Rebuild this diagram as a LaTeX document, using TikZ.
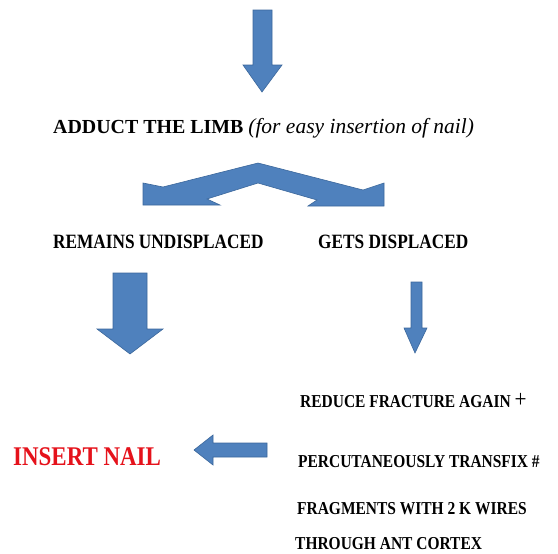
\documentclass[tikz,border=0pt]{standalone}
\usepackage{fontspec}
\setmainfont{Liberation Serif}
\newfontfamily\narrowserif{Liberation Serif}[FakeStretch=0.85]
\usetikzlibrary{positioning}

\definecolor{arrowblue}{HTML}{4F81BD}
\definecolor{arrowedge}{HTML}{3B679B}
\definecolor{nailred}{HTML}{E5121B}

\begin{document}
\begin{tikzpicture}[
        x=1pt, y=-1pt, % pixel grid, y grows downwards
        blockarrow/.style = {fill=arrowblue, draw=arrowedge, line width=0.6pt, line join=miter},
        steptext/.style = {anchor=base west, inner sep=0pt, font=\bfseries},
        bigtext/.style = {steptext, font=\bfseries\fontsize{19.9}{22}\selectfont},
        midtext/.style = {steptext, font=\narrowserif\bfseries\fontsize{20.3}{22}\selectfont},
        smalltext/.style = {steptext, font=\narrowserif\bfseries\fontsize{18.2}{20}\selectfont},
    ]
    \useasboundingbox (0,0) rectangle (558,554);

    % arrows
    \draw[blockarrow] (253,10) -- (272,10) -- (272,65) -- (282,65) -- (262,92)
        -- (243,65) -- (253,65) -- cycle;
    \draw[blockarrow] (258,163) -- (363,190) -- (384,183) -- (384,206) -- (308,206)
        -- (317,200) -- (258,183) -- (207,199) -- (220,205) -- (143,205)
        -- (143,183) -- (163,187) -- cycle;
    \draw[blockarrow] (113,273) -- (147,273) -- (147,329) -- (163,329) -- (130,354)
        -- (97,329) -- (113,329) -- cycle;
    \draw[blockarrow] (411,282) -- (422,282) -- (422,328) -- (427,328) -- (415,353)
        -- (404,328) -- (411,328) -- cycle;
    \draw[blockarrow] (267,443) -- (267,457) -- (213,457) -- (213,465) -- (194,450)
        -- (213,435) -- (213,443) -- cycle;

    % texts
    \node[bigtext] (adduct) at (53,133) {ADDUCT THE LIMB {\mdseries\itshape\fontsize{21.5}{22}\selectfont (for easy insertion of nail)}};
    \node[midtext] (undisplaced) at (53,248) {REMAINS UNDISPLACED};
    \node[midtext] (displaced) at (318,248) {GETS DISPLACED};
    \node[steptext, text=nailred, font=\narrowserif\bfseries\fontsize{27}{30}\selectfont] (insert) at (13,465) {INSERT NAIL};
    \node[smalltext] (reduce) at (300,407) {REDUCE FRACTURE AGAIN {\mdseries\fontsize{25}{25}\selectfont +}};
    \node[smalltext] (transfix) at (298,467) {PERCUTANEOUSLY TRANSFIX \#};
    \node[smalltext] (fragments) at (297,514) {FRAGMENTS WITH 2 K WIRES};
    \node[smalltext] (cortex) at (295,549) {THROUGH ANT CORTEX};
\end{tikzpicture}
\end{document}
